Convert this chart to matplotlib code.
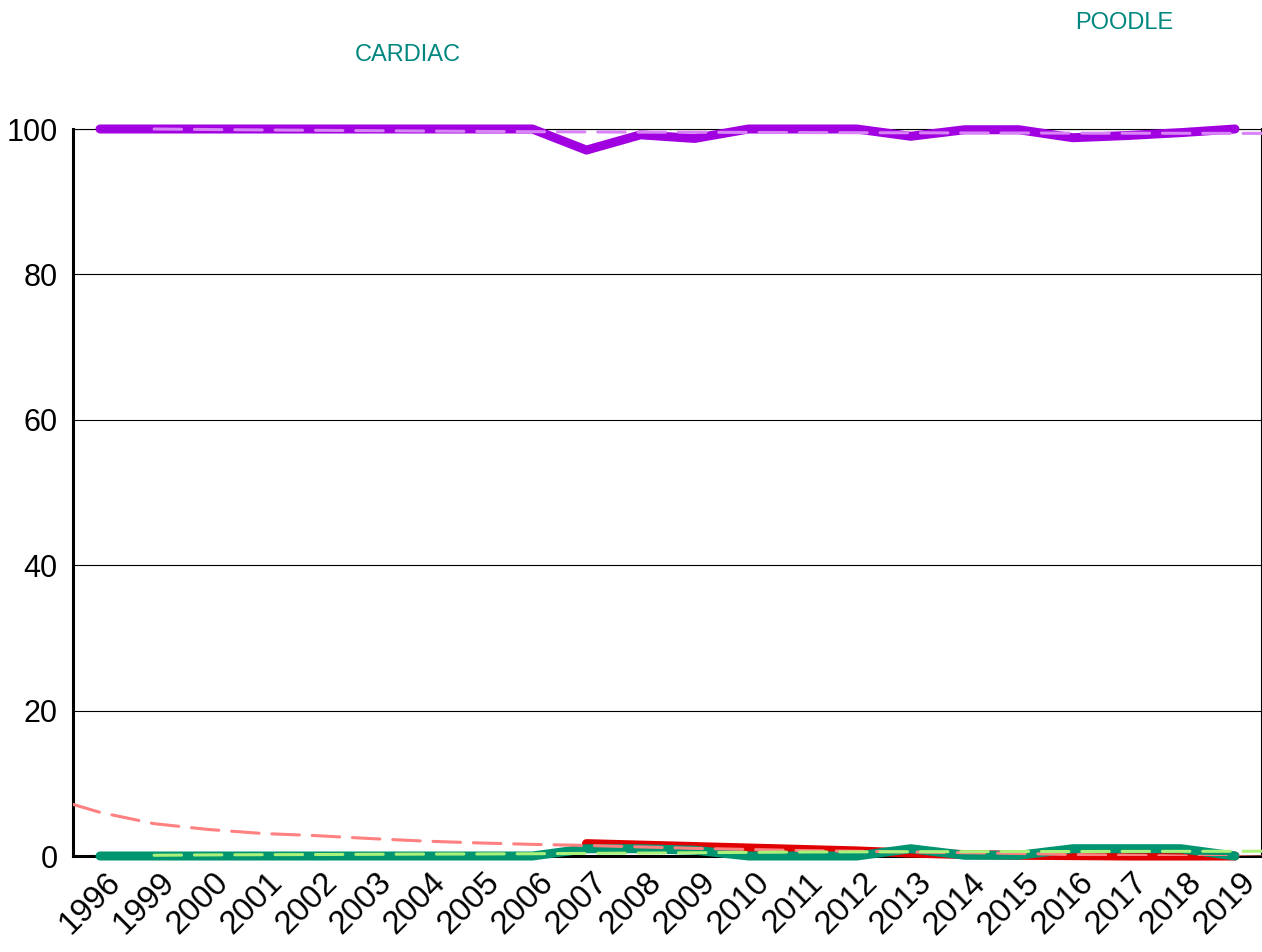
import matplotlib
matplotlib.use("Agg")
import matplotlib.pyplot as plt
import matplotlib.transforms as mtransforms
import numpy as np

plt.rcParams['font.family'] = ['Liberation Sans', 'DejaVu Sans']

# categories
years = ["1996", "1999", "2000", "2001", "2002", "2003", "2004", "2005", "2006",
         "2007", "2008", "2009", "2010", "2011", "2012", "2013", "2014", "2015",
         "2016", "2017", "2018", "2019"]

# series (percent)
purple_vals = [100, 100, 100, 100, 100, 100, 100, 100, 100,
               97.1, 99.2, 98.7, 100, 100, 100, 99.0, 99.9, 99.9,
               98.8, 99.1, 99.5, 100]
red_vals = [np.nan] * 9 + [1.7, 1.5, 1.3, 1.1, 0.9, 0.7, 0.4, 0.2, 0.1,
                           0.05, 0.0, 0.0, 0.0]
green_vals = [0, 0, 0, 0, 0, 0, 0, 0, 0,
              1.0, 1.0, 0.8, 0, 0, 0, 1.0, 0.1, 0.1,
              1.0, 1.0, 1.0, 0]

# trend lines
# purple / green: from 1999 to the right edge
purple_trend = [100.0, 99.93, 99.87, 99.82, 99.77, 99.72, 99.67, 99.63,
                99.6, 99.57, 99.55, 99.53, 99.51, 99.49, 99.48, 99.46, 99.45, 99.43,
                99.42, 99.41, 99.4, 99.4]
green_trend = [0.1, 0.15, 0.18, 0.2, 0.23, 0.26, 0.28, 0.31, 0.36, 0.4,
               0.45, 0.5, 0.55, 0.57, 0.59, 0.6, 0.61, 0.62, 0.63, 0.64, 0.65, 0.66]
# red: from the left edge to the right edge
red_trend = [7.1, 6.0, 4.45, 3.65, 3.1, 2.8, 2.4, 2.05, 1.8, 1.6, 1.45, 1.25, 1.05,
             0.9, 0.75, 0.65, 0.55, 0.45, 0.35, 0.2, 0.1, 0.0, -0.1, -0.15]

annotations = [("CARDIAC", 408, 55), ("POODLE", 1124, 23)]

fig = plt.figure(figsize=(12.62, 9.52), dpi=100)
ax = fig.add_axes([73 / 1262, 1 - 856 / 952, 1 - 73 / 1262, (856 - 129) / 952])

n = len(years)
x = np.arange(n)
x_red_t = np.concatenate([[-0.5], x, [n - 0.5]])
x_pg_t = np.concatenate([x[1:], [n - 0.5]])

ax.plot(x, purple_vals, color="#a100e0", lw=6.5, solid_capstyle="round",
        solid_joinstyle="round", clip_on=False, zorder=3)
ax.plot(x, red_vals, color="#e00000", lw=6.5, solid_capstyle="round",
        solid_joinstyle="round", clip_on=False, zorder=3)
ax.plot(x, green_vals, color="#009470", lw=6.5, solid_capstyle="round",
        solid_joinstyle="round", clip_on=False, zorder=3)

dash = dict(lw=2.2, dashes=(9, 4.2), dash_capstyle="round", zorder=4)
ax.plot(x_pg_t, purple_trend, color="#d884f6", clip_on=False, **dash)
ax.plot(x_red_t, red_trend, color="#ff8080", **dash)
ax.plot(x_pg_t, green_trend, color="#aaf27a", clip_on=False, **dash)

ax.set_xlim(-0.5, n - 0.5)
ax.set_ylim(0, 100)
ax.set_yticks([0, 20, 40, 60, 80, 100])
ax.set_xticks(x)
ax.set_xticklabels(years, rotation=45, ha="right", va="top", rotation_mode="anchor")
ax.yaxis.grid(True, color="black", lw=0.8)
ax.set_axisbelow(True)
ax.tick_params(axis="both", length=0)
ax.tick_params(axis="y", pad=11, labelsize=22)
ax.tick_params(axis="x", pad=8, labelsize=23.5)

offset = mtransforms.ScaledTranslation(5 / 100, 0, fig.dpi_scale_trans)
for lab in ax.get_xticklabels():
    lab.set_transform(lab.get_transform() + offset)

for side in ["left", "bottom"]:
    ax.spines[side].set_linewidth(2.2)
ax.spines["right"].set_linewidth(1.5)
ax.spines["top"].set_linewidth(0.8)

for txt, px, py in annotations:
    fig.text(px / 1262, 1 - py / 952, txt, color="#00877f", fontsize=17,
             ha="center", va="center")

fig.savefig("out.png", dpi=100)
